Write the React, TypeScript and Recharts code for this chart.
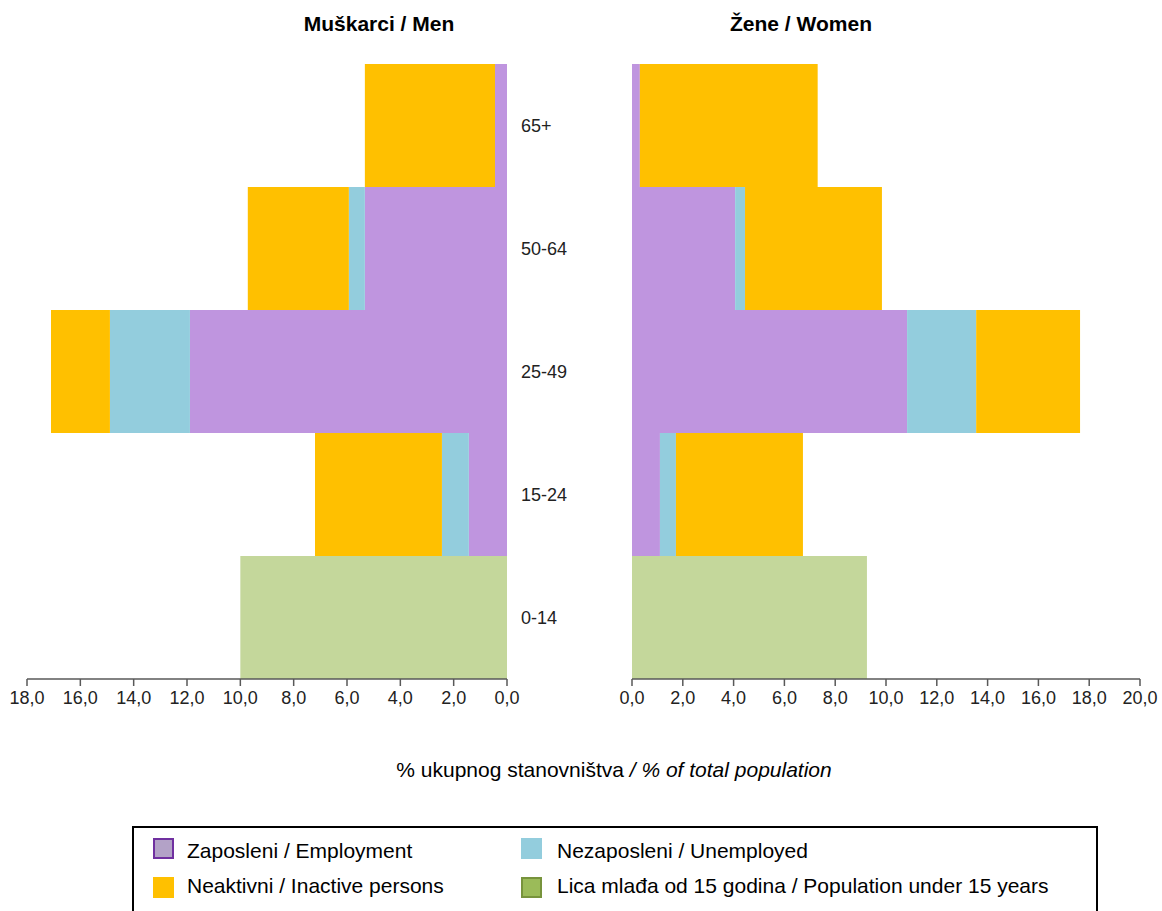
import { Bar, BarChart, XAxis, YAxis } from "recharts"

const ageGroups = ["65+", "50-64", "25-49", "15-24", "0-14"]

const menEmployed = [0.45, 5.33, 11.89, 1.43, 0]
const menUnemployed = [0, 0.6, 3.0, 1.01, 0]
const menInactive = [4.88, 3.79, 2.21, 4.76, 0]
const menUnder15 = [0, 0, 0, 0, 10.0]

const womenEmployed = [0.31, 4.06, 10.83, 1.1, 0]
const womenUnemployed = [0, 0.39, 2.72, 0.63, 0]
const womenInactive = [7.0, 5.39, 4.09, 5.0, 0]
const womenUnder15 = [0, 0, 0, 0, 9.25]

const menTicks = [0, 2, 4, 6, 8, 10, 12, 14, 16, 18]
const womenTicks = [0, 2, 4, 6, 8, 10, 12, 14, 16, 18, 20]

const menData = ageGroups.map((age, i) => ({
  age,
  employed: menEmployed[i],
  unemployed: menUnemployed[i],
  inactive: menInactive[i],
  under15: menUnder15[i],
}))

const womenData = ageGroups.map((age, i) => ({
  age,
  employed: womenEmployed[i],
  unemployed: womenUnemployed[i],
  inactive: womenInactive[i],
  under15: womenUnder15[i],
}))

const colors = {
  employed: "#bf95df",
  unemployed: "#93cddd",
  inactive: "#ffc000",
  under15: "#c4d79b",
}

const font = "Arial, 'Liberation Sans', sans-serif"
const fmt = (v: number) => v.toFixed(1).replace(".", ",")
const axisColor = "#595959"

const legendItems = [
  { label: "Zaposleni / Employment", fill: "#b3a2c7", stroke: "#7030a0", col: 0, row: 0 },
  { label: "Nezaposleni / Unemployed", fill: "#93cddd", stroke: "#93cddd", col: 1, row: 0 },
  { label: "Neaktivni / Inactive persons", fill: "#ffc000", stroke: "#ffc000", col: 0, row: 1 },
  { label: "Lica mlađa od 15 godina / Population under 15 years", fill: "#9bbb59", stroke: "#77933c", col: 1, row: 1 },
]

function bars() {
  return [
    <Bar key="e" dataKey="employed" stackId="a" fill={colors.employed} isAnimationActive={false} />,
    <Bar key="u" dataKey="unemployed" stackId="a" fill={colors.unemployed} isAnimationActive={false} />,
    <Bar key="i" dataKey="inactive" stackId="a" fill={colors.inactive} isAnimationActive={false} />,
    <Bar key="y" dataKey="under15" stackId="a" fill={colors.under15} isAnimationActive={false} />,
  ]
}

export default function App() {
  return (
    <div style={{ position: "absolute", left: 0, top: 0, width: 1162, height: 911, background: "#fff", fontFamily: font, overflow: "hidden" }}>
      <svg width={1162} height={911} style={{ position: "absolute", left: 0, top: 0 }}>
        <text x={379} y={31} textAnchor="middle" fontSize={21} fontWeight="bold" fontFamily={font}>
          Muškarci / Men
        </text>
        <text x={801} y={31} textAnchor="middle" fontSize={21} fontWeight="bold" fontFamily={font}>
          Žene / Women
        </text>
        <text x={614} y={777} textAnchor="middle" fontSize={21} fontFamily={font}>
          % ukupnog stanovništva <tspan fontStyle="italic">/ % of total population</tspan>
        </text>
        <rect x={133} y={827} width={964} height={100} fill="none" stroke="#000" strokeWidth={2} />
        {legendItems.map((it) => (
          <g key={it.label}>
            <rect x={154 + it.col * 368} y={839 + it.row * 39} width={19} height={19} fill={it.fill} stroke={it.stroke} strokeWidth={2} />
            <text x={187 + it.col * 370} y={858 + it.row * 35} fontSize={21} fontFamily={font}>
              {it.label}
            </text>
          </g>
        ))}
      </svg>

      <div style={{ position: "absolute", left: 0, top: 0 }}>
        <BarChart
          width={590}
          height={720}
          data={menData}
          layout="vertical"
          barCategoryGap={0}
          barGap={0}
          margin={{ top: 64, right: 0, bottom: 0, left: 27 }}
        >
          <XAxis
            type="number"
            reversed
            domain={[0, 18]}
            ticks={menTicks}
            tickFormatter={fmt}
            height={41}
            interval={0}
            tickSize={7}
            tickMargin={5}
            stroke={axisColor}
            strokeWidth={1.5}
            tick={{ fontSize: 18, fill: "#222", fontFamily: font }}
          />
          <YAxis
            type="category"
            dataKey="age"
            orientation="right"
            width={83}
            axisLine={false}
            tickLine={false}
            tickMargin={8}
            tick={{ fontSize: 18, fill: "#222", fontFamily: font }}
          />
          {bars()}
        </BarChart>
      </div>

      <div style={{ position: "absolute", left: 590, top: 0 }}>
        <BarChart
          width={572}
          height={720}
          data={womenData}
          layout="vertical"
          barCategoryGap={0}
          barGap={0}
          margin={{ top: 64, right: 22, bottom: 0, left: 42 }}
        >
          <XAxis
            type="number"
            domain={[0, 20]}
            ticks={womenTicks}
            tickFormatter={fmt}
            height={41}
            interval={0}
            tickSize={7}
            tickMargin={5}
            stroke={axisColor}
            strokeWidth={1.5}
            tick={{ fontSize: 18, fill: "#222", fontFamily: font }}
          />
          <YAxis type="category" dataKey="age" hide width={0} />
          {bars()}
        </BarChart>
      </div>
    </div>
  )
}
